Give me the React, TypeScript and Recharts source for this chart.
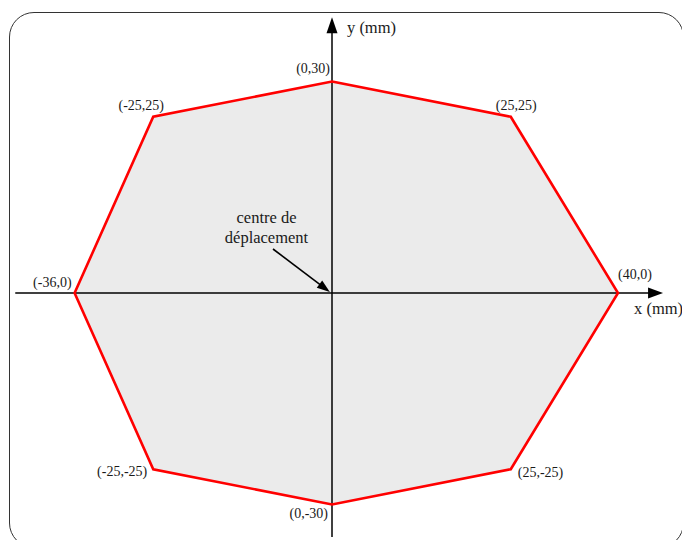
import React from 'react';
import { ScatterChart, Scatter, XAxis, YAxis } from 'recharts';

// Polygon vertices (mm) and their labels
const vertexX = [0, 25, 40, 25, 0, -25, -36, -25];
const vertexY = [30, 25, 0, -25, -30, -25, 0, 25];
const vertexLabels = ['(0,30)', '(25,25)', '(40,0)', '(25,-25)', '(0,-30)', '(-25,-25)', '(-36,0)', '(-25,25)'];

// Axes extents (mm) and titles
const xAxisRange = [-44.3, 46.3];
const yAxisRange = [-34.6, 39.1];
const axisTitles = ['x (mm)', 'y (mm)'];

// Annotation
const annotationLines = ['centre de', 'déplacement'];
const annotationFrom = [-8.25, 6.24];
const annotationTo = [-0.3, 0.15];

const KX = 7.15;
const KY = 7.05;
const X_DOMAIN: [number, number] = [-332 / KX, 350 / KX];
const Y_DOMAIN: [number, number] = [-247 / KY, 293 / KY];

const FONT = "'Liberation Serif', 'Times New Roman', Times, serif";
const RED = '#ff0000';
const FILL = '#ebebeb';
const INK = '#1a1a1a';

// label placement per vertex: [anchor, dx, dy]
const labelPlacement: Array<['start' | 'middle' | 'end', number, number]> = [
  ['end', -2, -8.5],
  ['middle', 5.5, -7],
  ['start', 0, -14.5],
  ['start', 7, 7.5],
  ['end', -4, 13.5],
  ['end', -6, 6.5],
  ['end', -3, -6.5],
  ['middle', -12, -6.5],
];

const polygonData = vertexX.map((x, i) => ({ x, y: vertexY[i], label: vertexLabels[i], idx: i }));
const xAxisData = [
  { x: xAxisRange[0], y: 0, title: '' },
  { x: xAxisRange[1], y: 0, title: axisTitles[0] },
];
const yAxisData = [
  { x: 0, y: yAxisRange[0], title: '' },
  { x: 0, y: yAxisRange[1], title: axisTitles[1] },
];
const annotationData = [
  { x: annotationFrom[0], y: annotationFrom[1], text: true },
  { x: annotationTo[0], y: annotationTo[1], text: false },
];

const PolygonLine = (props: any) => {
  const pts = props.points || [];
  const d = pts.map((p: any) => `${p.x},${p.y}`).join(' ');
  if (props.mode === 'fill') {
    return <polygon points={d} fill={FILL} stroke="none" />;
  }
  return <polygon points={d} fill="none" stroke={RED} strokeWidth={2.6} strokeLinejoin="miter" />;
};

const ArrowLine = (props: any) => {
  const pts = props.points || [];
  if (pts.length < 2) return null;
  const a = pts[0];
  const b = pts[pts.length - 1];
  const L = props.headLen;
  const W = props.headHalf;
  const dx = b.x - a.x;
  const dy = b.y - a.y;
  const len = Math.hypot(dx, dy) || 1;
  const ux = dx / len;
  const uy = dy / len;
  const bx = b.x - ux * L;
  const by = b.y - uy * L;
  const px = -uy;
  const py = ux;
  return (
    <g>
      <line x1={a.x} y1={a.y} x2={bx + ux * 2} y2={by + uy * 2} stroke="#000" strokeWidth={props.sw} />
      <polygon
        points={`${b.x},${b.y} ${bx + px * W},${by + py * W} ${bx - px * W},${by - py * W}`}
        fill="#000"
      />
    </g>
  );
};

const Empty = () => <g />;

export default function App() {
  return (
    <div
      style={{
        position: 'absolute',
        left: 0,
        top: 0,
        width: 682,
        height: 540,
        overflow: 'hidden',
        background: '#fff',
      }}
    >
      <div
        style={{
          position: 'absolute',
          left: 9,
          top: 12,
          width: 675,
          height: 536,
          boxSizing: 'border-box',
          border: '1.2px solid #333',
          borderRadius: 25,
        }}
      />
      <div style={{ position: 'absolute', left: 0, top: 0 }}>
        <ScatterChart width={682} height={540} margin={{ top: 0, right: 0, bottom: 0, left: 0 }}>
          <XAxis type="number" dataKey="x" domain={X_DOMAIN} allowDataOverflow hide />
          <YAxis type="number" dataKey="y" domain={Y_DOMAIN} allowDataOverflow hide />

          {/* gray fill */}
          <Scatter
            data={polygonData}
            isAnimationActive={false}
            line={<PolygonLine mode="fill" />}
            shape={Empty}
          />

          {/* x axis */}
          <Scatter
            data={xAxisData}
            isAnimationActive={false}
            line={<ArrowLine headLen={15} headHalf={5.5} sw={1.5} />}
            shape={(p: any) =>
              p.payload && p.payload.title ? (
                <text x={p.cx - 29} y={p.cy + 21} fontFamily={FONT} fontSize={16.5} fill={INK}>
                  {p.payload.title}
                </text>
              ) : (
                <g />
              )
            }
          />

          {/* y axis */}
          <Scatter
            data={yAxisData}
            isAnimationActive={false}
            line={<ArrowLine headLen={16} headHalf={5.5} sw={1.5} />}
            shape={(p: any) =>
              p.payload && p.payload.title ? (
                <text x={p.cx + 15} y={p.cy + 16} fontFamily={FONT} fontSize={16.5} fill={INK}>
                  {p.payload.title}
                </text>
              ) : (
                <g />
              )
            }
          />

          {/* annotation */}
          <Scatter
            data={annotationData}
            isAnimationActive={false}
            line={<ArrowLine headLen={13} headHalf={4.5} sw={1.6} />}
            shape={(p: any) =>
              p.payload && p.payload.text ? (
                <text fontFamily={FONT} fontSize={16.5} fill={INK} textAnchor="middle">
                  <tspan x={p.cx - 6.5} y={p.cy - 26}>
                    {annotationLines[0]}
                  </tspan>
                  <tspan x={p.cx - 6.5} y={p.cy - 6}>
                    {annotationLines[1]}
                  </tspan>
                </text>
              ) : (
                <g />
              )
            }
          />

          {/* red outline + vertex labels */}
          <Scatter
            data={polygonData}
            isAnimationActive={false}
            line={<PolygonLine mode="stroke" />}
            shape={(p: any) => {
              const i = p.payload ? p.payload.idx : 0;
              const [anchor, dx, dy] = labelPlacement[i];
              return (
                <text
                  x={p.cx + dx}
                  y={p.cy + dy}
                  textAnchor={anchor}
                  fontFamily={FONT}
                  fontSize={14}
                  fill={INK}
                >
                  {p.payload ? p.payload.label : ''}
                </text>
              );
            }}
          />
        </ScatterChart>
      </div>
    </div>
  );
}
